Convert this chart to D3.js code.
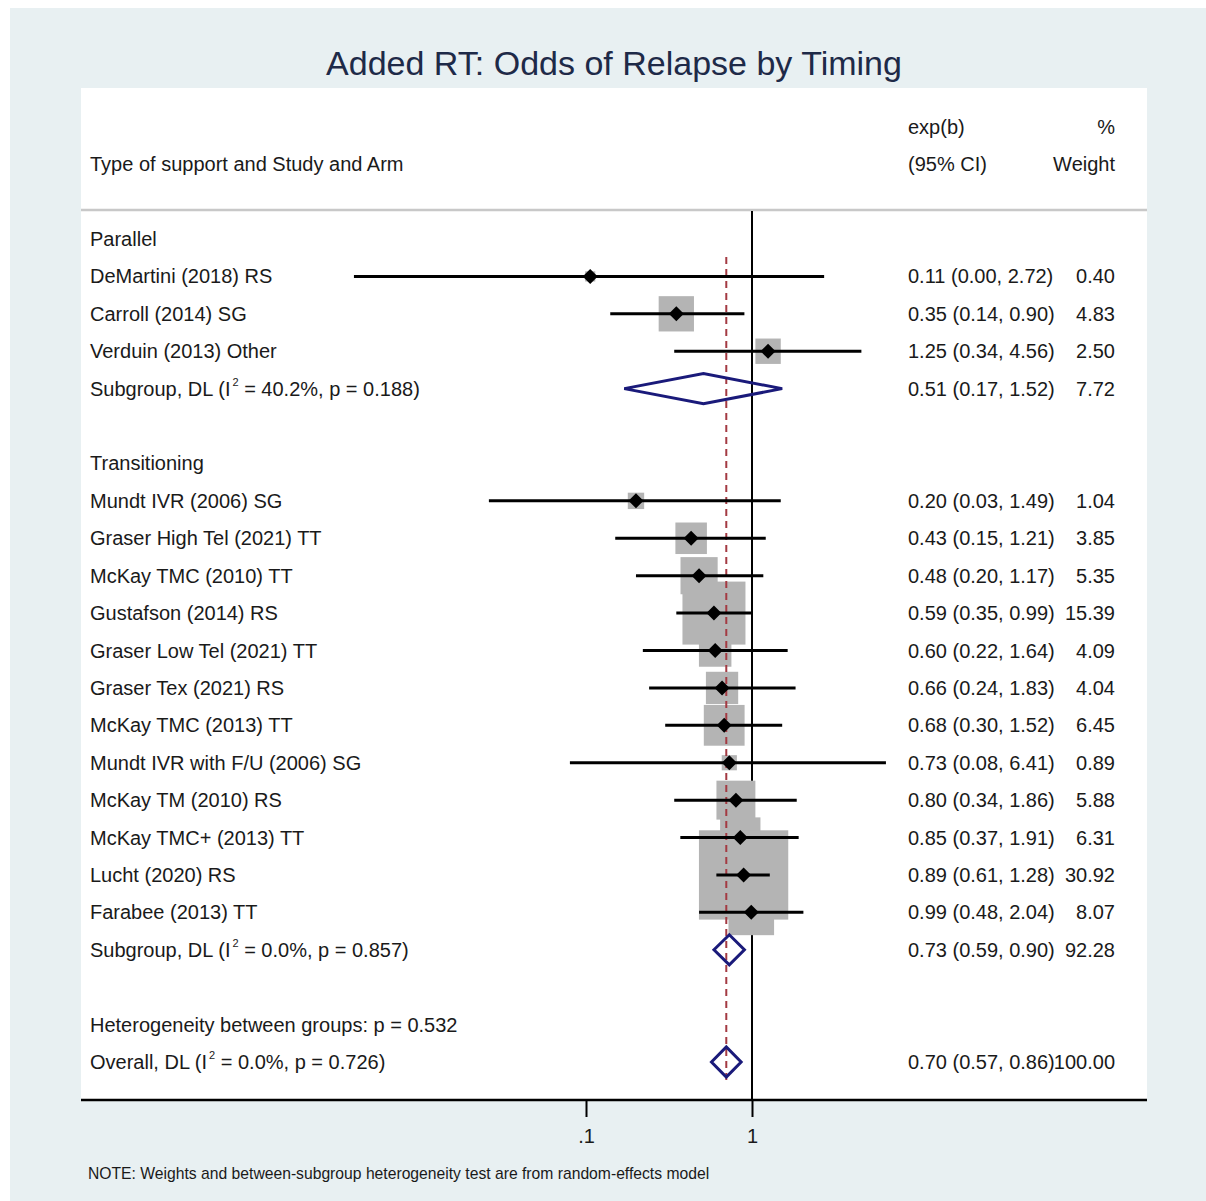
<!DOCTYPE html>
<html>
<head>
<meta charset="utf-8">
<script src="https://cdn.jsdelivr.net/npm/d3@7"></script>
<style>
  html, body { margin: 0; padding: 0; background: #ffffff; }
  text { font-family: "Liberation Sans", Arial, sans-serif; }
</style>
</head>
<body>
<svg id="chart" width="1206" height="1201"></svg>
<script>
// ---------- data ----------
const rowTypes = ["group","study","study","study","subgroup","blank","group",
  "study","study","study","study","study","study","study","study","study","study","study","study",
  "subgroup","blank","het","overall"];
const rowLabels = ["Parallel","DeMartini (2018) RS","Carroll (2014) SG","Verduin (2013) Other",
  "Subgroup, DL|40.2%|0.188","","Transitioning",
  "Mundt IVR (2006) SG","Graser High Tel (2021) TT","McKay TMC (2010) TT","Gustafson (2014) RS",
  "Graser Low Tel (2021) TT","Graser Tex (2021) RS","McKay TMC (2013) TT","Mundt IVR with F/U (2006) SG",
  "McKay TM (2010) RS","McKay TMC+ (2013) TT","Lucht (2020) RS","Farabee (2013) TT",
  "Subgroup, DL|0.0%|0.857","","Heterogeneity between groups: p = 0.532","Overall, DL|0.0%|0.726"];
const estimates = [null,0.106,0.35,1.25,0.51,null,null,
  0.20,0.43,0.48,0.59,0.60,0.66,0.68,0.73,0.80,0.85,0.89,0.99,
  0.73,null,null,0.70];
const lowerCI = [null,0.004,0.14,0.34,0.17,null,null,
  0.026,0.15,0.20,0.35,0.22,0.24,0.30,0.08,0.34,0.37,0.61,0.48,
  0.59,null,null,0.57];
const upperCI = [null,2.72,0.90,4.56,1.52,null,null,
  1.49,1.21,1.17,0.99,1.64,1.83,1.52,6.41,1.86,1.91,1.28,2.04,
  0.90,null,null,0.86];
const weights = [null,0.40,4.83,2.50,7.72,null,null,
  1.04,3.85,5.35,15.39,4.09,4.04,6.45,0.89,5.88,6.31,30.92,8.07,
  92.28,null,null,100.00];
const tickValues = [0.1, 1];
const tickLabels = [".1", "1"];
const overallEstimate = 0.70;

// ---------- layout ----------
const svg = d3.select("#chart");
const W = 1206, H = 1201;
const panel = {x0: 81, x1: 1147, y0: 88, y1: 1100};
const textColor = "#1a1a1a";
const navy = "#1a1a7a";
const FS = 20;

svg.append("rect").attr("x", 10).attr("y", 8).attr("width", W - 10).attr("height", H - 8)
  .attr("fill", "#e8f0f2");
svg.append("rect").attr("x", panel.x0).attr("y", panel.y0)
  .attr("width", panel.x1 - panel.x0).attr("height", panel.y1 - panel.y0).attr("fill", "#ffffff");

svg.append("text").attr("x", 614).attr("y", 75).attr("text-anchor", "middle")
  .attr("font-size", 34).attr("fill", "#1e2a48").text("Added RT: Odds of Relapse by Timing");

const x = d3.scaleLog().domain([0.1, 1]).range([586, 752]);
const y = d3.scaleLinear().domain([0, 22]).range([239, 1062]);
const sqK = 16.06;
const fmt = d3.format(".2f");

// header
const hdr = svg.append("g").attr("font-size", FS).attr("fill", textColor);
hdr.append("text").attr("x", 90).attr("y", 171).text("Type of support and Study and Arm");
hdr.append("text").attr("x", 908).attr("y", 134).text("exp(b)");
hdr.append("text").attr("x", 908).attr("y", 171).text("(95% CI)");
hdr.append("text").attr("x", 1115).attr("y", 134).attr("text-anchor", "end").text("%");
hdr.append("text").attr("x", 1115).attr("y", 171).attr("text-anchor", "end").text("Weight");

svg.append("line").attr("x1", panel.x0).attr("x2", panel.x1).attr("y1", 210).attr("y2", 210)
  .attr("stroke", "#c8c8c8").attr("stroke-width", 2.5);

// null line
svg.append("line").attr("x1", x(1)).attr("x2", x(1)).attr("y1", 211).attr("y2", panel.y1)
  .attr("stroke", "#000").attr("stroke-width", 2);

const rows = rowTypes.map((t, i) => ({i, type: t, label: rowLabels[i], est: estimates[i],
  lo: lowerCI[i], hi: upperCI[i], w: weights[i]}));

// weight squares
const studies = rows.filter(r => r.type === "study");
svg.append("g").selectAll("rect").data(studies).join("rect")
  .attr("x", d => x(d.est) - sqK * Math.sqrt(d.w) / 2)
  .attr("y", d => y(d.i) - sqK * Math.sqrt(d.w) / 2)
  .attr("width", d => sqK * Math.sqrt(d.w))
  .attr("height", d => sqK * Math.sqrt(d.w))
  .attr("fill", "#b4b4b4");

// overall dashed line
svg.append("line").attr("x1", x(overallEstimate)).attr("x2", x(overallEstimate))
  .attr("y1", 257).attr("y2", 1080)
  .attr("stroke", "#a33a42").attr("stroke-width", 2).attr("stroke-dasharray", "7,5");

// CI lines
svg.append("g").selectAll("line").data(studies).join("line")
  .attr("x1", d => x(d.lo)).attr("x2", d => x(d.hi))
  .attr("y1", d => y(d.i)).attr("y2", d => y(d.i))
  .attr("stroke", "#000").attr("stroke-width", 3);

// point diamonds
svg.append("g").selectAll("path").data(studies).join("path")
  .attr("d", d => { const cx = x(d.est), cy = y(d.i), s = 7.5;
    return `M${cx - s},${cy}L${cx},${cy - s}L${cx + s},${cy}L${cx},${cy + s}Z`; })
  .attr("fill", "#000");

// pooled diamonds
const pooled = rows.filter(r => r.type === "subgroup" || r.type === "overall");
svg.append("g").selectAll("path").data(pooled).join("path")
  .attr("d", d => { const cy = y(d.i), h = 15;
    return `M${x(d.lo)},${cy}L${x(d.est)},${cy - h}L${x(d.hi)},${cy}L${x(d.est)},${cy + h}Z`; })
  .attr("fill", "none").attr("stroke", navy).attr("stroke-width", 3).attr("stroke-linejoin", "miter");

// labels
const lab = svg.append("g").attr("font-size", FS).attr("fill", textColor);
rows.forEach(r => {
  if (r.type === "blank") return;
  const t = lab.append("text").attr("x", 90).attr("y", y(r.i) + 7);
  if (r.type === "subgroup" || r.type === "overall") {
    const [name, i2, p] = r.label.split("|");
    t.append("tspan").text(name + " (I");
    t.append("tspan").attr("font-size", 11).attr("dx", 2).attr("dy", -10).text("2");
    t.append("tspan").attr("dy", 10).text(` = ${i2}, p = ${p})`);
  } else {
    t.text(r.label);
  }
  if (r.est != null) {
    lab.append("text").attr("x", 908).attr("y", y(r.i) + 7)
      .text(`${fmt(r.est)} (${fmt(r.lo)}, ${fmt(r.hi)})`);
    lab.append("text").attr("x", 1115).attr("y", y(r.i) + 7).attr("text-anchor", "end")
      .text(fmt(r.w));
  }
});

// axis
svg.append("line").attr("x1", panel.x0).attr("x2", panel.x1).attr("y1", panel.y1).attr("y2", panel.y1)
  .attr("stroke", "#000").attr("stroke-width", 2.5);
const axis = d3.axisBottom(x).tickValues(tickValues)
  .tickFormat((d, i) => tickLabels[i]).tickSize(17).tickPadding(12);
const ag = svg.append("g").attr("transform", `translate(0,${panel.y1})`).call(axis);
ag.select(".domain").remove();
ag.selectAll(".tick line").attr("stroke", "#000").attr("stroke-width", 2);
ag.selectAll(".tick text").attr("font-size", FS).attr("fill", textColor)
  .attr("font-family", "Liberation Sans, Arial, sans-serif");

svg.append("text").attr("x", 88).attr("y", 1179).attr("font-size", 15.7).attr("fill", textColor)
  .text("NOTE: Weights and between-subgroup heterogeneity test are from random-effects model");
</script>
</body>
</html>
